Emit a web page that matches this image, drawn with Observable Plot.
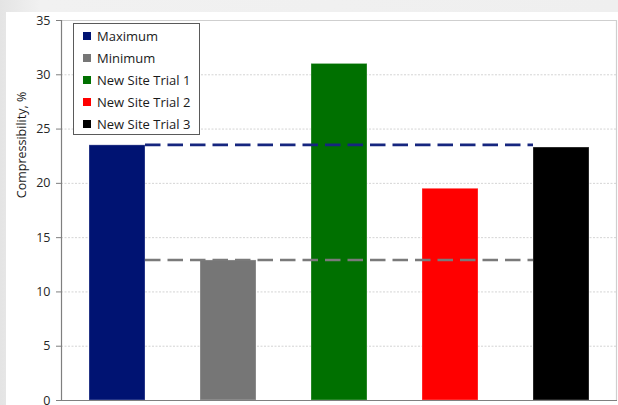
<!DOCTYPE html>
<html>
<head>
<meta charset="utf-8">
<script src="https://cdn.jsdelivr.net/npm/d3@7"></script>
<script src="https://cdn.jsdelivr.net/npm/@observablehq/plot@0.6"></script>
<style>
  html, body { margin: 0; padding: 0; }
  body { width: 618px; height: 405px; overflow: hidden; background: linear-gradient(90deg, #e4e4e4 0px, #f1f1f1 40px, #efefef 100%); font-family: "Open Sans", sans-serif; }
  #wrap { position: relative; width: 618px; height: 405px; }
  #panel { position: absolute; left: 6px; top: 12px; width: 612px; height: 393px; background: #ffffff; }
  #chart { position: absolute; left: 0; top: 0; }
  #chart svg text { fill: #262626; }
  #ylabel { position: absolute; left: 21px; top: 145px; transform: translate(-50%, -50%) rotate(-90deg); white-space: nowrap; font-size: 12.5px; color: #1a1a1a; }
  #legend { position: absolute; left: 73px; top: 23px; width: 127px; height: 112px; border: 1px solid #5a5a5a; background: #fff; padding-top: 1px; box-sizing: border-box; }
  .row { height: 22px; line-height: 22px; font-size: 13px; color: #1a1a1a; white-space: nowrap; position: relative; padding-left: 23px; }
  .sw { position: absolute; left: 9px; top: 7px; width: 8px; height: 8px; }
</style>
</head>
<body>
<div id="wrap">
  <div id="panel"></div>
  <div id="chart"></div>
  <div id="ylabel">Compressibility, %</div>
  <div id="legend"></div>
</div>
<script>
const categories = ["Maximum", "Minimum", "New Site Trial 1", "New Site Trial 2", "New Site Trial 3"];
const values = [23.5, 12.9, 31.0, 19.5, 23.3];
const colors = ["#001372", "#767676", "#007000", "#ff0000", "#000000"];
const yTicks = [0, 5, 10, 15, 20, 25, 30, 35];
const refLabels = ["Maximum", "Minimum"];
const refValues = [23.5, 12.9];
const refColors = ["#16267f", "#7a7a7a"];

const data = categories.map((c, i) => ({category: c, value: values[i], color: colors[i]}));
const refs = refLabels.map((l, i) => ({label: l, value: refValues[i], color: refColors[i]}));

function refLinesMark(index, scales, values, dimensions) {
  const x = scales.x, y = scales.y;
  const bw = typeof x.bandwidth === "function" ? x.bandwidth() : x.bandwidth;
  const x1 = x(categories[0]) + bw;
  const x2 = x(categories[categories.length - 1]);
  const g = d3.create("svg:g");
  for (const r of refs) {
    g.append("line")
      .attr("x1", x1).attr("x2", x2)
      .attr("y1", y(r.value)).attr("y2", y(r.value))
      .attr("stroke", r.color)
      .attr("stroke-width", 2.6)
      .attr("stroke-dasharray", "15.5,7");
  }
  return g.node();
}

function axesMark(index, scales, values, dimensions) {
  const {width, height, marginLeft, marginRight, marginTop, marginBottom} = dimensions;
  const g = d3.create("svg:g").attr("fill", "none");
  g.append("path")
    .attr("d", `M${marginLeft},${marginTop + 0.5}H${width - marginRight - 0.5}V${height - marginBottom}`)
    .attr("stroke", "#cfcfcf").attr("stroke-width", 1.2);
  g.append("path")
    .attr("d", `M${marginLeft + 0.5},${marginTop}V${height - marginBottom + 0.5}H${width - marginRight}`)
    .attr("stroke", "#7f7f7f").attr("stroke-width", 1.2);
  return g.node();
}

const chart = Plot.plot({
  width: 618,
  height: 405,
  marginLeft: 61,
  marginRight: 1,
  marginTop: 20,
  marginBottom: 5,
  style: {background: "transparent", fontFamily: "Open Sans, sans-serif", fontSize: "12.5px", color: "#7f7f7f"},
  x: {type: "band", domain: categories, paddingInner: 0.5, paddingOuter: 0.25, axis: null},
  y: {domain: [0, 35], ticks: yTicks, tickSize: 5, tickPadding: 6, label: null, line: false},
  marks: [
    Plot.ruleY(yTicks.filter(t => t > 0 && t < 35), {stroke: "#d4d4d4", strokeWidth: 1, strokeDasharray: "2,1.5"}),
    Plot.barY(data, {x: "category", y: "value", fill: "color", stroke: "#ffffff", strokeOpacity: 0.3, strokeWidth: 1, inset: 0}),
    refLinesMark,
    axesMark
  ]
});
document.getElementById("chart").appendChild(chart);

const legend = d3.select("#legend");
categories.forEach((c, i) => {
  const row = legend.append("div").attr("class", "row");
  row.append("span").attr("class", "sw").style("background", colors[i]);
  row.append("span").text(c);
});
</script>
</body>
</html>
